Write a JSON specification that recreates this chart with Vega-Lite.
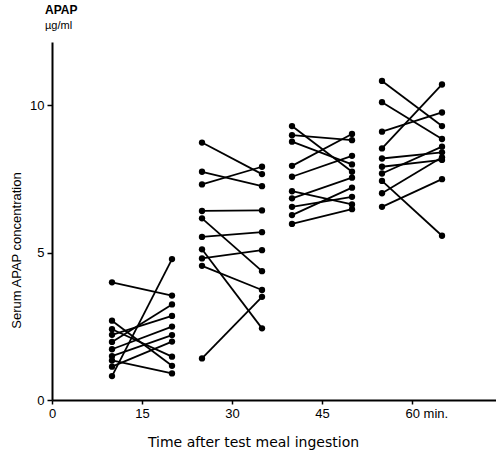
{
  "$schema": "https://vega.github.io/schema/vega-lite/v6.json",
  "width": 444,
  "height": 358,
  "autosize": "none",
  "padding": {"left": 52, "top": 42, "right": 0, "bottom": 52},
  "background": "white",
  "config": {"view": {"stroke": null}, "font": "Liberation Sans"},
  "title": {
    "text": "APAP",
    "subtitle": "µg/ml",
    "anchor": "start",
    "frame": "group",
    "dx": -7,
    "offset": 10,
    "fontSize": 12,
    "fontWeight": "bold",
    "subtitleFontSize": 11,
    "subtitlePadding": 3,
    "color": "black",
    "subtitleColor": "black"
  },
  "data": {
    "values": [
      {"id": "a1", "t": 10, "v": 3.99}, {"id": "a1", "t": 20, "v": 3.54},
      {"id": "a2", "t": 10, "v": 2.69}, {"id": "a2", "t": 20, "v": 1.16},
      {"id": "a3", "t": 10, "v": 2.40}, {"id": "a3", "t": 20, "v": 1.47},
      {"id": "a4", "t": 10, "v": 2.21}, {"id": "a4", "t": 20, "v": 2.85},
      {"id": "a5", "t": 10, "v": 1.97}, {"id": "a5", "t": 20, "v": 3.24},
      {"id": "a6", "t": 10, "v": 1.72}, {"id": "a6", "t": 20, "v": 2.49},
      {"id": "a7", "t": 10, "v": 1.49}, {"id": "a7", "t": 20, "v": 2.20},
      {"id": "a8", "t": 10, "v": 1.34}, {"id": "a8", "t": 20, "v": 0.90},
      {"id": "a9", "t": 10, "v": 1.13}, {"id": "a9", "t": 20, "v": 1.98},
      {"id": "a10", "t": 10, "v": 0.81}, {"id": "a10", "t": 20, "v": 4.78},
      {"id": "b1", "t": 25, "v": 8.73}, {"id": "b1", "t": 35, "v": 7.66},
      {"id": "b2", "t": 25, "v": 7.74}, {"id": "b2", "t": 35, "v": 7.25},
      {"id": "b3", "t": 25, "v": 7.31}, {"id": "b3", "t": 35, "v": 7.91},
      {"id": "b4", "t": 25, "v": 6.41}, {"id": "b4", "t": 35, "v": 6.43},
      {"id": "b5", "t": 25, "v": 6.16}, {"id": "b5", "t": 35, "v": 4.37},
      {"id": "b6", "t": 25, "v": 5.53}, {"id": "b6", "t": 35, "v": 5.69},
      {"id": "b7", "t": 25, "v": 5.11}, {"id": "b7", "t": 35, "v": 2.43},
      {"id": "b8", "t": 25, "v": 4.80}, {"id": "b8", "t": 35, "v": 5.08},
      {"id": "b9", "t": 25, "v": 4.55}, {"id": "b9", "t": 35, "v": 3.73},
      {"id": "b10", "t": 25, "v": 1.41}, {"id": "b10", "t": 35, "v": 3.50},
      {"id": "c1", "t": 40, "v": 9.29}, {"id": "c1", "t": 50, "v": 7.74},
      {"id": "c2", "t": 40, "v": 8.98}, {"id": "c2", "t": 50, "v": 8.81},
      {"id": "c3", "t": 40, "v": 8.76}, {"id": "c3", "t": 50, "v": 7.99},
      {"id": "c4", "t": 40, "v": 7.94}, {"id": "c4", "t": 50, "v": 9.02},
      {"id": "c5", "t": 40, "v": 7.57}, {"id": "c5", "t": 50, "v": 8.28},
      {"id": "c6", "t": 40, "v": 7.08}, {"id": "c6", "t": 50, "v": 6.63},
      {"id": "c7", "t": 40, "v": 6.84}, {"id": "c7", "t": 50, "v": 7.54},
      {"id": "c8", "t": 40, "v": 6.55}, {"id": "c8", "t": 50, "v": 6.89},
      {"id": "c9", "t": 40, "v": 6.27}, {"id": "c9", "t": 50, "v": 7.20},
      {"id": "c10", "t": 40, "v": 5.97}, {"id": "c10", "t": 50, "v": 6.47},
      {"id": "d1", "t": 55, "v": 10.82}, {"id": "d1", "t": 65, "v": 9.29},
      {"id": "d2", "t": 55, "v": 10.10}, {"id": "d2", "t": 65, "v": 8.85},
      {"id": "d3", "t": 55, "v": 9.10}, {"id": "d3", "t": 65, "v": 9.75},
      {"id": "d4", "t": 55, "v": 8.53}, {"id": "d4", "t": 65, "v": 10.70},
      {"id": "d5", "t": 55, "v": 8.19}, {"id": "d5", "t": 65, "v": 8.40},
      {"id": "d6", "t": 55, "v": 7.91}, {"id": "d6", "t": 65, "v": 8.14},
      {"id": "d7", "t": 55, "v": 7.68}, {"id": "d7", "t": 65, "v": 8.59},
      {"id": "d8", "t": 55, "v": 7.43}, {"id": "d8", "t": 65, "v": 5.57},
      {"id": "d9", "t": 55, "v": 7.01}, {"id": "d9", "t": 65, "v": 8.23},
      {"id": "d10", "t": 55, "v": 6.55}, {"id": "d10", "t": 65, "v": 7.49}
    ]
  },
  "encoding": {
    "x": {
      "field": "t",
      "type": "quantitative",
      "scale": {"domain": [0, 74], "nice": false, "zero": true},
      "axis": {
        "values": [0, 15, 30, 45, 60],
        "grid": false,
        "domainColor": "black",
        "domainWidth": 2,
        "tickColor": "black",
        "tickWidth": 1.5,
        "tickSize": 4,
        "labelFontSize": 13,
        "labelColor": "black",
        "labelPadding": 3,
        "labelFlush": false,
        "labelExpr": "datum.value == 60 ? '60 min.' : datum.label",
        "labelAlign": {"condition": {"test": "datum.value == 60", "value": "left"}, "value": "center"},
        "labelOffset": {"condition": {"test": "datum.value == 60", "value": -7}, "value": 0},
        "title": "Time after test meal ingestion",
        "titleFont": "DejaVu Sans",
        "titleFontSize": 14,
        "titleFontWeight": "normal",
        "titleColor": "black",
        "titleX": 201,
        "titleY": 46,
        "titleBaseline": "alphabetic"
      }
    },
    "y": {
      "field": "v",
      "type": "quantitative",
      "scale": {"domain": [0, 12.14], "nice": false},
      "axis": {
        "values": [0, 5, 10],
        "grid": false,
        "domainColor": "black",
        "domainWidth": 2,
        "tickColor": "black",
        "tickWidth": 1.5,
        "tickSize": 5,
        "labelFontSize": 13,
        "labelColor": "black",
        "labelPadding": 3,
        "labelFlush": false,
        "title": "Serum APAP concentration",
        "titleFontSize": 13,
        "titleFontWeight": "normal",
        "titleColor": "black",
        "titleX": -29,
        "titleY": 208
      }
    },
    "detail": {"field": "id"}
  },
  "layer": [
    {"mark": {"type": "line", "color": "black", "strokeWidth": 1.8}},
    {"mark": {"type": "point", "filled": true, "color": "black", "opacity": 1, "size": 40}}
  ]
}
